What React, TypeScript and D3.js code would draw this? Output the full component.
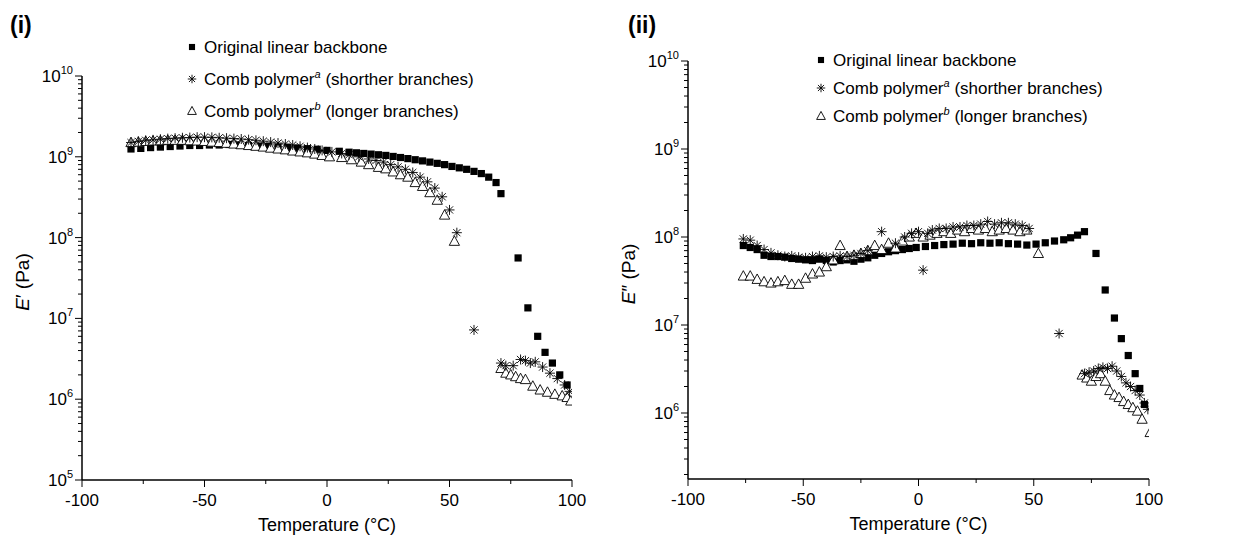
import React from 'react';
import * as d3 from 'd3';

const FONT = '"Liberation Sans", Arial, Helvetica, sans-serif';

// ---------- Panel (i): storage modulus E' ----------
const iLinear: [number, number][] = [
  [-80, 1.25e9], [-76, 1.27e9], [-72, 1.3e9], [-68, 1.32e9], [-64, 1.34e9], [-60, 1.36e9],
  [-56, 1.38e9], [-52, 1.38e9], [-48, 1.4e9], [-44, 1.4e9], [-40, 1.42e9], [-36, 1.4e9],
  [-32, 1.38e9], [-28, 1.36e9], [-24, 1.34e9], [-20, 1.32e9], [-16, 1.3e9], [-12, 1.28e9],
  [-8, 1.26e9], [-4, 1.24e9], [0, 1.2e9], [5, 1.17e9], [9, 1.14e9], [12, 1.12e9],
  [15, 1.1e9], [18, 1.08e9], [21, 1.06e9], [24, 1.04e9], [27, 1.01e9], [30, 0.98e9],
  [33, 0.95e9], [36, 0.92e9], [39, 0.89e9], [42, 0.86e9], [45, 0.83e9], [48, 0.8e9],
  [51, 0.76e9], [54, 0.73e9], [57, 0.7e9], [60, 0.66e9], [63, 0.62e9], [66, 0.56e9],
  [69, 0.48e9], [71, 0.35e9], [78, 5.6e7], [82, 1.35e7], [86, 6.0e6], [89, 3.8e6],
  [92, 2.8e6], [95, 2.0e6], [98, 1.5e6],
];
const iCombA: [number, number][] = [
  [-80, 1.5e9], [-77, 1.55e9], [-74, 1.6e9], [-71, 1.62e9], [-68, 1.65e9], [-65, 1.68e9],
  [-62, 1.7e9], [-59, 1.72e9], [-56, 1.73e9], [-53, 1.75e9], [-50, 1.75e9], [-47, 1.74e9],
  [-44, 1.72e9], [-41, 1.7e9], [-38, 1.68e9], [-35, 1.66e9], [-32, 1.63e9], [-29, 1.6e9],
  [-26, 1.56e9], [-23, 1.52e9], [-20, 1.48e9], [-17, 1.44e9], [-14, 1.4e9], [-11, 1.35e9],
  [-8, 1.3e9], [-5, 1.25e9], [-2, 1.2e9], [2, 1.15e9], [6, 1.1e9], [9, 1.06e9],
  [13, 1.0e9], [17, 0.94e9], [20, 0.9e9], [23, 0.86e9], [26, 0.8e9], [29, 0.75e9],
  [32, 0.7e9], [35, 0.64e9], [38, 0.56e9], [41, 0.49e9], [44, 0.41e9], [47, 0.32e9],
  [50, 0.22e9], [53, 1.15e8], [60, 7.2e6], [71, 2.8e6], [73, 2.6e6], [76, 2.6e6],
  [79, 3.1e6], [81, 3.0e6], [83, 2.8e6], [85, 2.9e6], [88, 2.5e6], [91, 2.1e6],
  [94, 1.8e6], [97, 1.5e6], [99, 1.25e6],
];
const iCombB: [number, number][] = [
  [-80, 1.5e9], [-77, 1.52e9], [-74, 1.55e9], [-71, 1.57e9], [-68, 1.58e9], [-65, 1.6e9],
  [-62, 1.6e9], [-59, 1.6e9], [-56, 1.58e9], [-53, 1.57e9], [-50, 1.55e9], [-47, 1.52e9],
  [-44, 1.5e9], [-41, 1.47e9], [-38, 1.44e9], [-35, 1.41e9], [-32, 1.38e9], [-29, 1.35e9],
  [-26, 1.32e9], [-23, 1.28e9], [-20, 1.25e9], [-17, 1.22e9], [-14, 1.18e9], [-11, 1.15e9],
  [-8, 1.12e9], [-5, 1.08e9], [-2, 1.04e9], [1, 1.0e9], [6, 9.8e8], [10, 9.2e8],
  [14, 8.6e8], [17, 8.0e8], [21, 7.4e8], [24, 7.1e8], [27, 6.5e8], [30, 6.0e8],
  [33, 5.6e8], [36, 4.8e8], [39, 4.3e8], [42, 3.6e8], [45, 2.9e8], [48, 1.9e8],
  [52, 9.0e7], [71, 2.4e6], [73, 2.1e6], [75, 2.0e6], [77, 1.9e6], [79, 1.8e6],
  [81, 1.75e6], [84, 1.45e6], [87, 1.3e6], [90, 1.22e6], [93, 1.15e6], [96, 1.1e6],
  [98, 1.05e6], [99.5, 0.95e6],
];

// ---------- Panel (ii): loss modulus E'' ----------
const iiLinear: [number, number][] = [
  [-76, 8.0e7], [-73, 7.6e7], [-70, 7.2e7], [-67, 6.2e7], [-64, 6.0e7], [-61, 6.0e7],
  [-58, 5.9e7], [-55, 5.7e7], [-52, 5.6e7], [-49, 5.5e7], [-46, 5.4e7], [-43, 5.6e7],
  [-40, 5.4e7], [-37, 5.2e7], [-34, 5.4e7], [-31, 5.5e7], [-28, 5.3e7], [-25, 5.6e7],
  [-22, 5.8e7], [-19, 6.2e7], [-16, 6.5e7], [-13, 6.8e7], [-10, 7.0e7], [-7, 7.2e7],
  [-4, 7.4e7], [-1, 7.6e7], [3, 7.8e7], [7, 8.0e7], [11, 8.2e7], [15, 8.3e7],
  [19, 8.5e7], [23, 8.4e7], [27, 8.6e7], [31, 8.5e7], [35, 8.6e7], [39, 8.4e7],
  [43, 8.3e7], [47, 8.1e7], [51, 8.3e7], [55, 8.6e7], [59, 9.0e7], [63, 9.3e7],
  [66, 9.8e7], [69, 1.05e8], [72, 1.15e8], [77, 6.5e7], [81, 2.5e7], [85, 1.2e7],
  [88, 7.0e6], [91, 4.5e6], [94, 2.8e6], [96, 1.9e6], [98, 1.25e6],
];
const iiCombA: [number, number][] = [
  [-76, 9.5e7], [-73, 9.2e7], [-70, 8.0e7], [-67, 7.2e7], [-64, 6.6e7], [-61, 6.2e7],
  [-58, 6.0e7], [-55, 6.1e7], [-52, 5.9e7], [-49, 5.8e7], [-46, 6.0e7], [-43, 6.1e7],
  [-40, 5.9e7], [-37, 6.0e7], [-34, 6.1e7], [-31, 6.0e7], [-28, 6.2e7], [-25, 6.5e7],
  [-22, 7.0e7], [-16, 1.15e8], [-10, 8.5e7], [-6, 1.0e8], [-3, 1.1e8], [0, 1.15e8],
  [2, 4.2e7], [4, 1.1e8], [6, 1.2e8], [9, 1.25e8], [12, 1.25e8], [15, 1.3e8],
  [18, 1.3e8], [21, 1.35e8], [24, 1.35e8], [27, 1.4e8], [30, 1.5e8], [33, 1.4e8],
  [36, 1.45e8], [39, 1.45e8], [42, 1.4e8], [45, 1.35e8], [48, 1.25e8], [61, 8.0e6],
  [72, 2.8e6], [74, 2.9e6], [76, 3.0e6], [78, 3.2e6], [80, 3.3e6], [82, 3.2e6],
  [84, 3.4e6], [86, 3.0e6], [88, 2.6e6], [90, 2.2e6], [92, 2.0e6], [94, 1.8e6],
  [96, 1.6e6], [98, 1.3e6], [99.5, 1.1e6],
];
const iiCombB: [number, number][] = [
  [-76, 3.6e7], [-73, 3.6e7], [-70, 3.3e7], [-67, 3.1e7], [-64, 3.0e7], [-61, 3.1e7],
  [-58, 3.2e7], [-55, 2.9e7], [-52, 2.9e7], [-49, 3.4e7], [-46, 3.8e7], [-43, 4.0e7],
  [-40, 4.6e7], [-37, 5.5e7], [-34, 8.0e7], [-31, 6.0e7], [-28, 6.2e7], [-25, 6.5e7],
  [-22, 7.0e7], [-19, 8.0e7], [-16, 7.2e7], [-13, 8.5e7], [-10, 7.5e7], [-7, 9.0e7],
  [-4, 1.0e8], [-1, 1.1e8], [2, 1.0e8], [5, 1.05e8], [8, 1.1e8], [11, 1.15e8],
  [14, 1.1e8], [17, 1.2e8], [20, 1.15e8], [23, 1.25e8], [26, 1.2e8], [29, 1.25e8],
  [32, 1.15e8], [35, 1.2e8], [38, 1.25e8], [41, 1.2e8], [44, 1.15e8], [47, 1.2e8],
  [52, 6.5e7], [71, 2.7e6], [73, 2.5e6], [75, 2.3e6], [77, 2.6e6], [79, 2.8e6],
  [81, 2.3e6], [83, 1.8e6], [85, 1.6e6], [87, 1.5e6], [89, 1.35e6], [91, 1.25e6],
  [93, 1.15e6], [95, 1.05e6], [97, 0.85e6], [100.5, 0.6e6],
];

const xTicksMajor = [-100, -50, 0, 50, 100];
const xTicksMinor = [-75, -25, 25, 75];
const legendNames = ['Original linear backbone', 'Comb polymer', 'Comb polymer'];
const legendSup = ['', 'a', 'b'];
const legendSuffix = ['', ' (shorther branches)', ' (longer branches)'];

type Kind = 'square' | 'star' | 'triangle';

function Marker({ kind, x, y, s = 1 }: { kind: Kind; x: number; y: number; s?: number }) {
  if (kind === 'square') {
    const h = 3.6 * s;
    return <rect x={x - h} y={y - h} width={2 * h} height={2 * h} fill="#000" />;
  }
  if (kind === 'star') {
    const r = 5 * s;
    const d = r * 0.72;
    return (
      <path
        d={`M${x - r},${y}H${x + r}M${x},${y - r}V${y + r}M${x - d},${y - d}L${x + d},${y + d}M${x - d},${y + d}L${x + d},${y - d}`}
        stroke="#000"
        strokeWidth={0.9}
        fill="none"
      />
    );
  }
  const r = 5.4 * s;
  return (
    <path
      d={`M${x},${y - r}L${x + r * 0.95},${y + r * 0.75}L${x - r * 0.95},${y + r * 0.75}Z`}
      fill="#fff"
      stroke="#000"
      strokeWidth={0.9}
    />
  );
}

interface PanelProps {
  id: string;
  label: string;
  yTitle: string;
  x0: number;
  x1: number;
  yTop: number;
  yBot: number;
  yMin: number;
  series: { kind: Kind; data: [number, number][] }[];
  legendX: number;
  legendY: number[];
  labelX: number;
}

function Panel(p: PanelProps) {
  const x = d3.scaleLinear().domain([-100, 100]).range([p.x0, p.x1]);
  const y = d3.scaleLog().domain([p.yMin, 1e10]).range([p.yBot, p.yTop]);
  const ticks = y.ticks();
  const cx = (p.x0 + p.x1) / 2;
  const cy = (p.yTop + p.yBot) / 2;
  const order = [0, 2, 1];
  return (
    <g fontFamily={FONT}>
      <defs>
        <clipPath id={p.id}>
          <rect x={p.x0} y={p.yTop - 10} width={p.x1 - p.x0} height={p.yBot - p.yTop + 10} />
        </clipPath>
      </defs>
      <text x={p.labelX} y={33} fontSize={23} fontWeight="bold">{p.label}</text>
      {/* axes */}
      <line x1={p.x0} x2={p.x0} y1={p.yTop} y2={p.yBot} stroke="#000" strokeWidth={1.5} />
      <line x1={p.x0} x2={p.x1} y1={p.yBot} y2={p.yBot} stroke="#000" strokeWidth={1.5} />
      {ticks.map((t, i) => {
        const lg = Math.log10(t);
        const major = Math.abs(lg - Math.round(lg)) < 1e-9;
        const yy = y(t);
        return (
          <g key={i}>
            <line x1={p.x0 - (major ? 7 : 4)} x2={p.x0} y1={yy} y2={yy} stroke="#000" strokeWidth={1} />
            {major && (
              <text x={p.x0 - 9} y={yy + 6} fontSize={17} textAnchor="end">
                10<tspan dy={-8} fontSize={11}>{Math.round(lg)}</tspan>
              </text>
            )}
          </g>
        );
      })}
      {xTicksMajor.map((t) => (
        <g key={t}>
          <line x1={x(t)} x2={x(t)} y1={p.yBot} y2={p.yBot + 7} stroke="#000" strokeWidth={1} />
          <text x={x(t)} y={p.yBot + 26} fontSize={17} textAnchor="middle">{t}</text>
        </g>
      ))}
      {xTicksMinor.map((t) => (
        <line key={t} x1={x(t)} x2={x(t)} y1={p.yBot} y2={p.yBot + 4} stroke="#000" strokeWidth={1} />
      ))}
      <text x={cx} y={p.yBot + 51} fontSize={18} textAnchor="middle">Temperature (°C)</text>
      <text transform={`translate(${p.x0 - 53},${cy + 4}) rotate(-90)`} fontSize={19} textAnchor="middle">
        <tspan fontStyle="italic">E</tspan>
        {p.yTitle}
      </text>
      {/* data */}
      <g clipPath={`url(#${p.id})`}>
        {order.map((si) =>
          p.series[si].data.map((d, j) => (
            <Marker key={`${si}-${j}`} kind={p.series[si].kind} x={x(d[0])} y={y(d[1])} />
          )),
        )}
      </g>
      {/* legend */}
      {p.series.map((s, i) => (
        <g key={i}>
          <Marker kind={s.kind} x={p.legendX} y={p.legendY[i]} s={0.85} />
          <text x={p.legendX + 12} y={p.legendY[i] + 6} fontSize={17}>
            {legendNames[i]}
            {legendSup[i] && (
              <tspan dy={-7} fontSize={11} fontStyle="italic">{legendSup[i]}</tspan>
            )}
            {legendSup[i] && <tspan dy={7}>{legendSuffix[i]}</tspan>}
          </text>
        </g>
      ))}
    </g>
  );
}

export default function App() {
  return (
    <svg
      width={1252}
      height={546}
      style={{ position: 'absolute', left: 0, top: 0, background: '#fff' }}
    >
      <rect width={1252} height={546} fill="#fff" />
      <Panel
        id="clipI"
        label="(i)"
        yTitle="′ (Pa)"
        x0={82}
        x1={572}
        yTop={76}
        yBot={480}
        yMin={1e5}
        series={[
          { kind: 'square', data: iLinear },
          { kind: 'star', data: iCombA },
          { kind: 'triangle', data: iCombB },
        ]}
        legendX={192}
        legendY={[47, 79, 111]}
        labelX={10}
      />
      <Panel
        id="clipII"
        label="(ii)"
        yTitle="″ (Pa)"
        x0={688}
        x1={1149}
        yTop={61}
        yBot={479}
        yMin={Math.pow(10, 5.25)}
        series={[
          { kind: 'square', data: iiLinear },
          { kind: 'star', data: iiCombA },
          { kind: 'triangle', data: iiCombB },
        ]}
        legendX={821}
        legendY={[60, 88, 116]}
        labelX={628}
      />
    </svg>
  );
}
